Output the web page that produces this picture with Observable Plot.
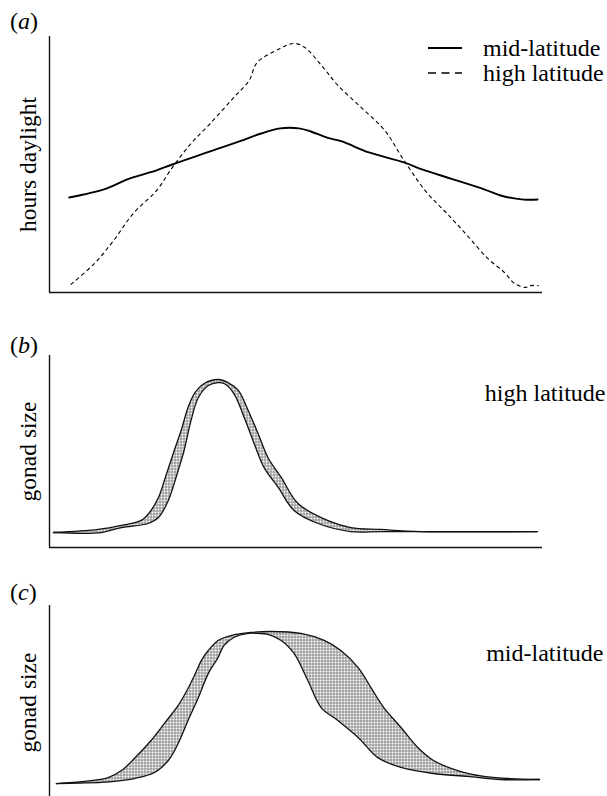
<!DOCTYPE html>
<html><head><meta charset="utf-8">
<script src="https://cdn.jsdelivr.net/npm/d3@7"></script>
<script src="https://cdn.jsdelivr.net/npm/@observablehq/plot@0.6"></script>
<style>
body{margin:0;background:#fff;}
#wrap{position:relative;width:607px;height:796px;overflow:hidden;font-family:"Liberation Serif","Times New Roman",Tinos,serif;color:#000;}
.panel{position:absolute;left:0;}
.lab{position:absolute;font-size:24px;line-height:24px;white-space:nowrap;}
.sw{position:absolute;}
</style></head><body><div id="wrap"></div>
<script>
// ---- data (x: 0–100 along the year, y: 0–100 relative) ----
const midLatitude = [[4.0,37.1],[11.5,40.6],[16.2,44.5],[21.7,47.7],[24.9,50.0],[32.6,55.1],[39.7,59.8],[42.9,62.1],[46.8,64.1],[50.6,64.1],[53.0,62.9],[56.3,60.5],[59.3,59.0],[64.8,54.7],[71.9,50.8],[75.7,48.0],[81.4,44.5],[88.3,40.2],[91.5,37.9],[96.2,36.3],[99.0,36.3]];
const highLatitude = [[4.3,3.1],[9.1,11.3],[13.0,20.3],[17.0,30.9],[21.7,39.8],[24.9,48.8],[28.7,58.2],[32.6,66.0],[37.4,76.2],[40.5,82.8],[42.1,89.8],[46.8,95.3],[49.6,97.3],[51.8,95.7],[55.5,87.9],[58.5,80.9],[63.2,72.3],[68.0,63.3],[71.9,51.6],[76.5,39.1],[80.6,30.9],[84.4,23.0],[88.9,13.3],[92.3,7.8],[94.3,3.5],[96.6,2.0],[97.6,2.7],[99.2,2.7]];
const highGonadUpper = [[0.8,7.8],[9.9,9.4],[14.6,11.5],[18.6,14.1],[20.6,19.3],[22.1,26.0],[23.3,34.9],[25.3,50.5],[26.7,60.9],[28.1,72.9],[29.4,80.2],[31.4,85.4],[34.2,87.5],[36.2,85.9],[38.3,81.8],[40.3,71.4],[42.3,59.4],[44.3,46.9],[47.0,36.5],[50.4,22.9],[55.1,15.6],[61.1,10.4],[67.2,9.4],[75.3,8.3],[99.0,8.3]];
const highGonadLower = [[0.8,7.8],[10.5,7.8],[14.6,10.4],[20.0,12.5],[22.1,15.6],[24.1,24.5],[26.1,40.1],[27.3,50.5],[28.7,66.1],[30.2,78.1],[32.2,84.4],[34.2,85.9],[35.4,85.4],[37.4,80.2],[39.5,67.7],[41.5,54.2],[43.5,41.7],[46.4,31.3],[49.6,19.3],[54.5,12.5],[61.1,8.3],[67.2,8.3],[80.0,8.3],[90.0,8.3],[99.0,8.3]];
const midGonadUpper = [[1.4,8.2],[7.1,9.3],[11.9,11.3],[14.6,14.9],[17.2,21.1],[20.6,30.4],[23.3,39.2],[26.1,48.5],[28.1,57.2],[29.4,63.9],[30.8,71.6],[32.2,76.8],[34.2,82.0],[36.8,84.5],[40.9,86.1],[44.9,86.6],[51.0,85.6],[55.7,82.0],[59.1,76.8],[62.6,68.0],[65.2,57.7],[67.8,47.4],[71.3,37.1],[74.7,26.8],[77.9,20.1],[82.8,14.9],[88.1,11.9],[93.5,10.8],[99.4,10.3]];
const midGonadLower = [[1.4,8.2],[6.0,8.5],[10.5,8.8],[14.0,9.6],[17.2,10.8],[21.3,13.9],[24.1,20.1],[26.1,28.9],[28.1,40.7],[30.2,52.6],[32.2,64.9],[34.2,73.2],[35.4,79.4],[37.4,83.5],[40.3,85.6],[42.3,85.6],[44.3,85.1],[47.0,82.0],[49.6,75.3],[52.4,61.3],[55.1,47.4],[58.5,40.7],[62.6,32.0],[66.6,21.6],[71.3,16.5],[77.9,13.4],[84.8,11.9],[91.5,10.3],[99.4,10.3]];
const panelLabels = ["a","b","c"];
const axisLabels = ["hours daylight","gonad size","gonad size"];
const panelTitles = ["high latitude","mid-latitude"];
const legendLabels = ["mid-latitude","high latitude"];

const wrap = document.getElementById("wrap");
const FONT = '"Liberation Serif", "Times New Roman", Tinos, serif';
const BAND = "#bdbdbd";
const fx = d => d[0], fy = d => d[1];

function axes(label){
  return [
    Plot.ruleX([0], {stroke:"#111", strokeWidth:1.4}),
    Plot.ruleY([0], {stroke:"#111", strokeWidth:1.4}),
    Plot.text([label], {text:d=>d, frameAnchor:"left", rotate:-90, dx:-21, fontSize:23.5, textAnchor:"middle", lineAnchor:"middle", fill:"#000"})
  ];
}
function base(h, mt, mb, marks){
  return Plot.plot({width:607, height:h, marginLeft:49, marginRight:65, marginTop:mt, marginBottom:mb,
    style:{fontFamily:FONT, background:"transparent", overflow:"visible"},
    x:{domain:[0,100], axis:null}, y:{domain:[0,100], axis:null}, marks});
}
function bandMarks(upper, lower, title, tdx, tdy){
  const poly = upper.concat(lower.slice(1, -1).reverse());
  return [
    Plot.line(poly, {x:fx, y:fy, curve:"catmull-rom", fill:BAND, strokeOpacity:0}),
    Plot.line(upper, {x:fx, y:fy, curve:"catmull-rom", stroke:"#111", strokeWidth:1.3}),
    Plot.line(lower, {x:fx, y:fy, curve:"catmull-rom", stroke:"#111", strokeWidth:1.3}),
    Plot.text([title], {text:d=>d, frameAnchor:"top-right", textAnchor:"end", lineAnchor:"bottom", dx:tdx, dy:tdy, fontSize:24, fill:"#000"})
  ];
}
const SVGNS = "http://www.w3.org/2000/svg";
function hatch(svg, id){
  const defs = document.createElementNS(SVGNS, "defs");
  const pat = document.createElementNS(SVGNS, "pattern");
  pat.setAttribute("id", id); pat.setAttribute("width", 3); pat.setAttribute("height", 3);
  pat.setAttribute("patternUnits", "userSpaceOnUse");
  const r = document.createElementNS(SVGNS, "rect");
  r.setAttribute("width", 3); r.setAttribute("height", 3); r.setAttribute("fill", "#fff");
  const p = document.createElementNS(SVGNS, "path");
  p.setAttribute("d", "M0 0.5H3M0.5 0V3"); p.setAttribute("stroke", "#8a8a8a"); p.setAttribute("stroke-width", 1);
  pat.appendChild(r); pat.appendChild(p); defs.appendChild(pat);
  svg.insertBefore(defs, svg.firstChild);
  svg.querySelectorAll(`g[fill="${BAND}"]`).forEach(g => g.setAttribute("fill", `url(#${id})`));
}
function place(svg, top){
  svg.classList.add("panel"); svg.style.top = top + "px"; wrap.appendChild(svg);
}

// (a)
const pa = base(300, 36, 8, [
  ...axes(axisLabels[0]),
  Plot.line(midLatitude, {x:fx, y:fy, curve:"catmull-rom", stroke:"#000", strokeWidth:1.9}),
  Plot.line(highLatitude, {x:fx, y:fy, curve:"catmull-rom", stroke:"#000", strokeWidth:1.1, strokeDasharray:"4,3", strokeLinecap:"butt"})
]);
place(pa, 0);

// (b)
const pb = base(252, 55, 5, [...axes(axisLabels[1]), ...bandMarks(highGonadUpper, highGonadLower, panelTitles[0], 63, 45)]);
place(pb, 300);
hatch(pb, "hatch-b");

// (c)
const pc = base(250, 53, 3, [...axes(axisLabels[2]), ...bandMarks(midGonadUpper, midGonadLower, panelTitles[1], 61, 55)]);
place(pc, 552);
hatch(pc, "hatch-c");

// panel letters (baseline y positions)
const letterBase = [28, 352, 599];
panelLabels.forEach((l, i) => {
  const d = document.createElement("div");
  d.className = "lab";
  d.style.left = "10px"; d.style.top = (letterBase[i] - 19.5) + "px";
  d.innerHTML = `(<i>${l}</i>)`;
  wrap.appendChild(d);
});

// legend
const legBase = [55, 80];
const legDash = ["none", "8,5.5"];
const legWidth = [2, 1.4];
legendLabels.forEach((l, i) => {
  const sw = document.createElementNS(SVGNS, "svg");
  sw.setAttribute("width", 36); sw.setAttribute("height", 6);
  sw.setAttribute("class", "sw");
  sw.style.left = "428px"; sw.style.top = (legBase[i] - 10) + "px";
  sw.innerHTML = `<line x1="0" x2="34" y1="3" y2="3" stroke="#000" stroke-width="${legWidth[i]}" stroke-dasharray="${legDash[i]}"/>`;
  wrap.appendChild(sw);
  const t = document.createElement("div");
  t.className = "lab"; t.textContent = l;
  t.style.left = "483px"; t.style.top = (legBase[i] - 19.5) + "px";
  wrap.appendChild(t);
});
</script></body></html>
